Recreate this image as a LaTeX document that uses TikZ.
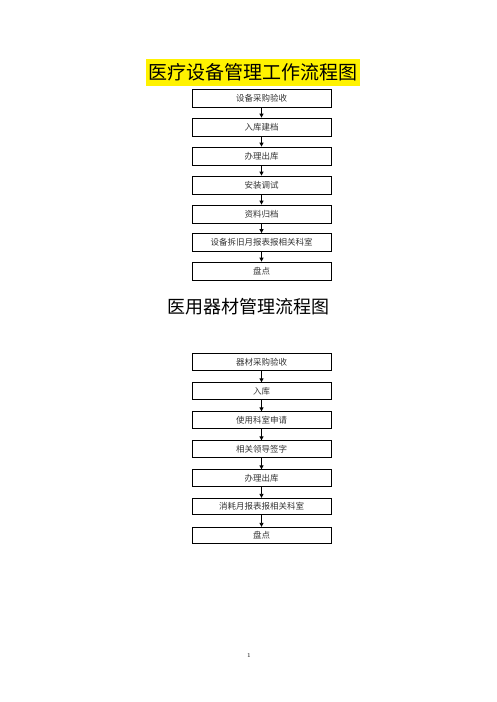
\documentclass[tikz,border=0pt]{standalone}
\usepackage{fontspec}
\newfontfamily\cjk{Noto Sans CJK SC}
\newfontfamily\cjkb{Noto Sans CJK SC}[BoldFont={Noto Sans CJK SC Bold}]
\usetikzlibrary{arrows.meta}
\tikzset{
  boxA/.style={draw=black, line width=0.8pt, minimum width=139pt, minimum height=18pt, inner sep=0pt, font=\cjk\fontsize{8.5}{9}\selectfont, text=black!80},
  boxB/.style={boxA, minimum height=16.5pt},
  link/.style={line width=0.8pt, -{Triangle[length=4pt,width=4pt]}},
}
\begin{document}
\begin{tikzpicture}[x=1pt,y=-1pt]
\useasboundingbox (0,0) rectangle (496,702);
% title 1
\node[fill=yellow, inner sep=0pt, minimum width=214pt, minimum height=27pt, font=\cjk\fontsize{19}{20}\selectfont] (t1) at (253,72) {医疗设备管理工作流程图};
% upper chain
\node[boxA] (a1) at (261.5,98) {设备采购验收};
\node[boxA] (a2) at (261.5,127) {入库建档};
\node[boxA] (a3) at (261.5,156) {办理出库};
\node[boxA] (a4) at (261.5,185) {安装调试};
\node[boxA] (a5) at (261.5,214) {资料归档};
\node[boxA] (a6) at (261.5,242.5) {设备拆旧月报表报相关科室};
\node[boxA] (a7) at (261.5,271) {盘点};
\foreach \i/\j in {a1/a2,a2/a3,a3/a4,a4/a5,a5/a6,a6/a7}
  \draw[link] (\i.south) -- (\j.north);
% title 2
\node[inner sep=0pt, font=\cjk\fontsize{18}{19}\selectfont] (t2) at (248,306.5) {医用器材管理流程图};
% lower chain
\node[boxB] (b1) at (261.5,362) {器材采购验收};
\node[boxB] (b2) at (261.5,391) {入库};
\node[boxB] (b3) at (261.5,420) {使用科室申请};
\node[boxB] (b4) at (261.5,449) {相关领导签字};
\node[boxB] (b5) at (261.5,478) {办理出库};
\node[boxB] (b6) at (261.5,506.5) {消耗月报表报相关科室};
\node[boxB] (b7) at (261.5,535.5) {盘点};
\foreach \i/\j in {b1/b2,b2/b3,b3/b4,b4/b5,b5/b6,b6/b7}
  \draw[link] (\i.south) -- (\j.north);
% page number
\node[font=\fontsize{6}{7}\selectfont] (pg) at (249,655) {1};
\end{tikzpicture}
\end{document}
